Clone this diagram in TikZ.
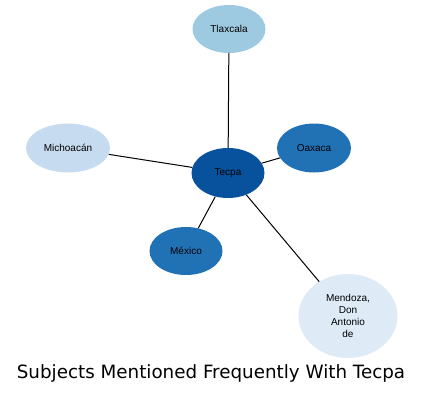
\documentclass[tikz,border=0pt]{standalone}
\usepackage{fontspec}
\setmainfont{Liberation Sans}
\newfontfamily\titlefont{DejaVu Sans}
\usetikzlibrary{shapes.geometric}
\definecolor{blueA}{HTML}{08519C}
\definecolor{blueB}{HTML}{2171B5}
\definecolor{blueC}{HTML}{9ECAE1}
\definecolor{blueD}{HTML}{C6DBEF}
\definecolor{blueE}{HTML}{DEEBF7}

\begin{document}
\begin{tikzpicture}[x=1pt,y=-1pt,
  subj/.style={ellipse,inner sep=0pt,font=\fontsize{10}{12}\selectfont,align=center},
  link/.style={line width=1pt}]
  \useasboundingbox (0,0) rectangle (424,394);

  \node[subj,fill=blueA,minimum width=73pt,minimum height=50pt]  (tecpa)    at (228,173) {Tecpa};
  \node[subj,fill=blueC,minimum width=73pt,minimum height=48pt]  (tlaxcala) at (229,29)  {Tlaxcala};
  \node[subj,fill=blueD,minimum width=84pt,minimum height=49pt]  (michoa)   at (68,148)  {Michoacán};
  \node[subj,fill=blueB,minimum width=74pt,minimum height=49pt]  (oaxaca)   at (314,148) {Oaxaca};
  \node[subj,fill=blueB,minimum width=73pt,minimum height=48pt]  (mexico)   at (186,251) {México};
  \node[subj,fill=blueE,minimum width=99pt,minimum height=84pt]  (mendoza)  at (348,316) {Mendoza,\\Don\\Antonio\\de};

  \draw[link] (tecpa) -- (tlaxcala);
  \draw[link] (tecpa) -- (michoa);
  \draw[link] (tecpa) -- (oaxaca);
  \draw[link] (tecpa) -- (mexico);
  \draw[link] (tecpa) -- (mendoza);

  \node[font=\titlefont\fontsize{18.3}{20}\selectfont] (title) at (211,373) {Subjects Mentioned Frequently With Tecpa};
\end{tikzpicture}
\end{document}
